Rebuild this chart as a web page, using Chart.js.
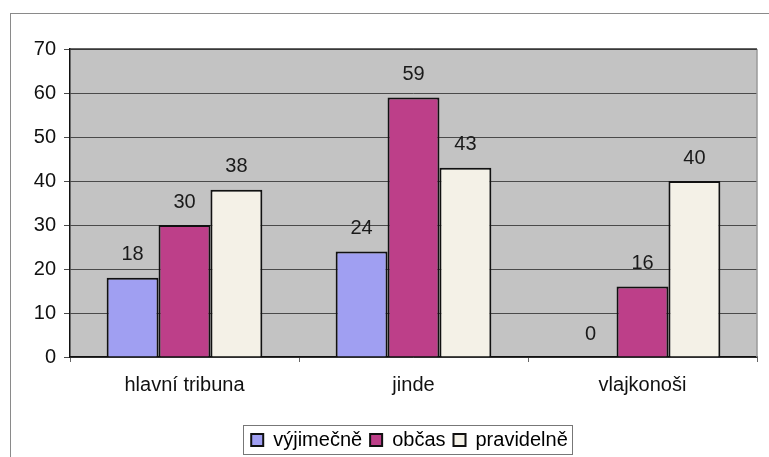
<!DOCTYPE html>
<html>
<head>
<meta charset="utf-8">
<script src="https://cdn.jsdelivr.net/npm/chart.js@4"></script>
<style>
  html, body { margin: 0; padding: 0; background: #fff; }
  #wrap { position: relative; width: 769px; height: 457px; }
  #frame { position: absolute; left: 10px; top: 13px; right: 0; bottom: 0;
           border-left: 1px solid #8a8a8a; border-top: 1px solid #8a8a8a; }
</style>
</head>
<body>
<div id="wrap">
  <div id="frame"></div>
  <canvas id="chart" width="769" height="457"></canvas>
</div>
<script>
// kde na stadionu a jak často
const categories = ['hlavní tribuna', 'jinde', 'vlajkonoši'];
const vyjimecne = [18, 24, 0];
const obcas = [30, 59, 16];
const pravidelne = [38, 43, 40];
const yTicks = [0, 10, 20, 30, 40, 50, 60, 70];

const font = 'Arial, "Liberation Sans", sans-serif';

// šedé pozadí grafu a rámeček
const plotArea = {
  id: 'plotArea',
  beforeDraw(chart) {
    const { ctx, chartArea: a } = chart;
    ctx.save();
    ctx.fillStyle = '#c3c3c3';
    ctx.fillRect(a.left, a.top, a.right - a.left, a.bottom - a.top);
    ctx.restore();
  },
  afterDatasetsDraw(chart) {
    const { ctx, chartArea: a } = chart;
    ctx.save();
    ctx.strokeStyle = '#9a9a9a';
    ctx.lineWidth = 1.5;
    ctx.beginPath();
    ctx.moveTo(a.right, a.top);
    ctx.lineTo(a.right, a.bottom);
    ctx.stroke();
    ctx.strokeStyle = '#333';
    ctx.beginPath();
    ctx.moveTo(a.left, a.top);
    ctx.lineTo(a.right, a.top);
    ctx.stroke();
    ctx.restore();
  }
};

// hodnoty nad sloupci
const valueLabels = {
  id: 'valueLabels',
  afterDatasetsDraw(chart) {
    const { ctx } = chart;
    ctx.save();
    ctx.font = '20px ' + font;
    ctx.fillStyle = '#1a1a1a';
    ctx.textAlign = 'center';
    ctx.textBaseline = 'middle';
    chart.data.datasets.forEach((ds, i) => {
      chart.getDatasetMeta(i).data.forEach((bar, j) => {
        ctx.fillText(String(ds.data[j]), bar.x, bar.y - 23);
      });
    });
    ctx.restore();
  }
};

// legenda je v originálu trochu posunutá doprava, plus rámeček kolem ní
const legendBox = {
  id: 'legendBox',
  afterLayout(chart) {
    const l = chart.legend;
    if (!l) return;
    l.left += 26; l.right += 26;
    l.top += 3; l.bottom += 3;
  },
  afterDraw(chart) {
    const l = chart.legend;
    if (!l || !l.legendItems.length) return;
    const hb = l.legendHitBoxes;
    const left = hb[0].left - 8;
    const right = hb[hb.length - 1].left + hb[hb.length - 1].width + 4;
    const mid = hb[0].top + hb[0].height / 2;
    const { ctx } = chart;
    ctx.save();
    ctx.strokeStyle = '#777';
    ctx.lineWidth = 1;
    ctx.strokeRect(Math.round(left) + 0.5, Math.round(mid - 15) + 0.5, Math.round(right - left), 29);
    ctx.restore();
  }
};

new Chart(document.getElementById('chart'), {
  type: 'bar',
  data: {
    labels: categories,
    datasets: [
      { label: 'výjimečně', data: vyjimecne, backgroundColor: '#a09ff2' },
      { label: 'občas', data: obcas, backgroundColor: '#bd3f89' },
      { label: 'pravidelně', data: pravidelne, backgroundColor: '#f4f1e7' }
    ].map(d => Object.assign(d, {
      borderColor: '#111',
      borderWidth: 2,
      borderSkipped: 'bottom',
      barPercentage: 1,
      categoryPercentage: 0.68
    }))
  },
  options: {
    responsive: false,
    animation: false,
    layout: { padding: { left: 10, top: 49, right: 12, bottom: 0 } },
    plugins: {
      title: { display: false },
      tooltip: { enabled: false },
      legend: {
        position: 'bottom',
        labels: {
          color: '#111',
          font: { family: font, size: 20 },
          boxWidth: 12,
          boxHeight: 12,
          padding: 8,
          useBorderRadius: false,
          generateLabels(chart) {
            return chart.data.datasets.map((ds, i) => ({
              text: ds.label,
              fillStyle: ds.backgroundColor,
              strokeStyle: '#111',
              lineWidth: 2,
              datasetIndex: i,
              hidden: false
            }));
          }
        }
      }
    },
    scales: {
      x: {
        grid: { display: true, drawOnChartArea: false, offset: true, tickLength: 5, color: '#666' },
        border: { color: '#111', width: 1.5 },
        ticks: { color: '#111', font: { family: font, size: 20 }, padding: 11 },
        afterFit(scale) { scale.height = 62; }
      },
      y: {
        min: 0,
        max: 70,
        afterBuildTicks(scale) { scale.ticks = yTicks.map(v => ({ value: v })); },
        grid: { color: '#4a4a4a', lineWidth: 1, tickLength: 6 },
        border: { color: '#111', width: 1.5 },
        ticks: { color: '#111', font: { family: font, size: 20 }, padding: 8 },
        afterFit(scale) { scale.width = 60; }
      }
    }
  },
  plugins: [plotArea, valueLabels, legendBox]
});
</script>
</body>
</html>
